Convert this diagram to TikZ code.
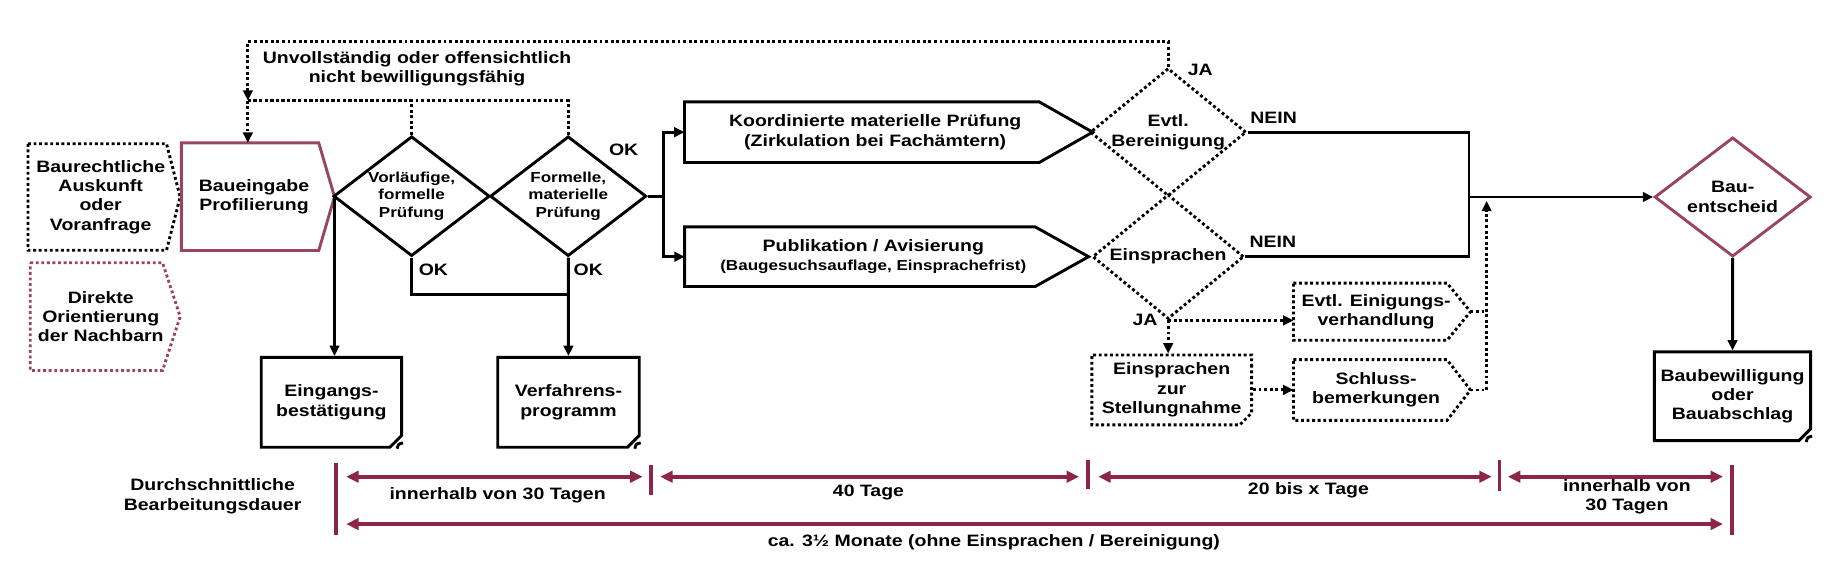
\documentclass[tikz,border=0pt]{standalone}
\usepackage{fontspec}
\setmainfont[FakeStretch=1.18]{Liberation Sans}
\usepackage{tikz}
\usetikzlibrary{shapes.geometric, shapes.misc, arrows.meta, positioning, calc}
\definecolor{baurot}{HTML}{9A4460}
\definecolor{dauerrot}{HTML}{8C2546}

\tikzset{
  txt/.style={font=\fontsize{8}{9.4}\selectfont\bfseries, align=center, inner sep=0pt},
  txtklein/.style={font=\fontsize{7}{8.5}\selectfont\bfseries, align=center, inner sep=0pt},
  linie/.style={line width=1.4pt},
  punkt/.style={line width=1.4pt, dash pattern=on 1.4pt off 1.3pt},
  pfeil/.style={-{Triangle[length=5pt,width=4.6pt]}},
  raute/.style={diamond, draw, line width=1.4pt, inner sep=0pt, aspect=1.3, minimum width=2.66cm, minimum height=2.04cm},
  dok/.style={chamfered rectangle, chamfered rectangle corners=south east, chamfered rectangle xsep=0.1cm, chamfered rectangle ysep=0.1cm, draw, line width=1.4pt},
  dauer/.style={dauerrot, line width=1.8pt},
  dauerpfeil/.style={dauer, {Triangle[length=6pt,width=5.5pt]}-{Triangle[length=6pt,width=5.5pt]}}
}

\begin{document}
\begin{tikzpicture}[x=0.02cm, y=-0.02cm]
  \useasboundingbox (0,0) rectangle (1568,495);

  % Vorabklaerung
  \node[txt, minimum width=2.46cm, minimum height=1.80cm] (auskunft) at (85.7,167.7) {Baurechtliche\\Auskunft\\oder\\Voranfrage};
  \draw[punkt] (auskunft.north west) -- ($(auskunft.north east)+(-5.8,0)$) -- ($(auskunft.east)+(5.8,0)$) -- ($(auskunft.south east)+(-5.8,0)$) -- (auskunft.south west) -- cycle;

  \node[txt, minimum width=2.39cm, minimum height=1.82cm] (nachbarn) at (85.8,269.5) {Direkte\\Orientierung\\der Nachbarn};
  \draw[punkt, baurot] (nachbarn.north west) -- ($(nachbarn.north east)+(-7.5,0)$) -- ($(nachbarn.east)+(7.5,0)$) -- ($(nachbarn.south east)+(-7.5,0)$) -- (nachbarn.south west) -- cycle;

  % Baueingabe und Vorpruefung
  \node[txt, minimum width=2.46cm, minimum height=1.82cm] (eingabe) at (216.2,167.4) {Baueingabe\\Profilierung};
  \draw[linie, baurot] (eingabe.north west) -- ($(eingabe.north east)+(-6.7,0)$) -- ($(eingabe.east)+(6.7,0)$) coordinate (eingabe-spitze) -- ($(eingabe.south east)+(-6.7,0)$) -- (eingabe.south west) -- cycle;

  \node[raute, txtklein] (vorpruef) at (350.4,167) {Vorläufige,\\formelle\\Prüfung};
  \node[raute, txtklein] (matpruef) at (483.7,167) {Formelle,\\materielle\\Prüfung};

  \node[dok, txt, minimum width=2.39cm, minimum height=1.53cm] (eingang) at (282.1,342.5) {Eingangs-\\bestätigung};
  \node[dok, txt, minimum width=2.41cm, minimum height=1.53cm] (verfahren) at (483.9,342.5) {Verfahrens-\\programm};

  % Rueckweisung
  \coordinate (rueck) at (211,35.5);
  \coordinate (sammel) at (211,85.7);
  \node[txt] (unvoll) at (355,58.7) {Unvollständig oder offensichtlich\\nicht bewilligungsfähig};

  % Materielle Pruefung und Publikation
  \node[txt, minimum width=6.48cm, minimum height=1.02cm] (koord) at (745,112.5) {Koordinierte materielle Prüfung\\(Zirkulation bei Fachämtern)};
  \draw[linie] (koord.north west) -- ($(koord.north east)+(-22.75,0)$) -- ($(koord.east)+(22.75,0)$) -- ($(koord.south east)+(-22.75,0)$) -- (koord.south west) -- cycle;

  \node[txt, minimum width=6.41cm, minimum height=1.0cm] (publ) at (743.4,218.5) {Publikation / Avisierung\\{\fontsize{7}{8.5}\selectfont(Baugesuchsauflage, Einsprachefrist)}};
  \draw[linie] (publ.north west) -- ($(publ.north east)+(-22.7,0)$) -- ($(publ.east)+(22.7,0)$) -- ($(publ.south east)+(-22.7,0)$) -- (publ.south west) -- cycle;

  \node[raute, punkt, txt, aspect=1.22, minimum width=2.58cm, minimum height=2.12cm] (bereinig) at (994.4,112.5) {Evtl.\\Bereinigung};
  \node[raute, punkt, txt, aspect=1.22, minimum width=2.58cm, minimum height=2.12cm] (einspr) at (994.4,218.5) {Einsprachen};

  % Einsprachen
  \node[dok, punkt, txt, minimum width=2.72cm, minimum height=1.19cm] (stellung) at (997.4,331.9) {Einsprachen\\zur\\Stellungnahme};

  \node[txt, minimum width=2.8cm, minimum height=0.96cm] (einigung) at (1171.4,265.3) {Evtl. Einigungs-\\verhandlung};
  \draw[punkt] (einigung.north west) -- ($(einigung.north east)+(-9.95,0)$) -- ($(einigung.east)+(9.95,0)$) coordinate (einigung-spitze) -- ($(einigung.south east)+(-9.95,0)$) -- (einigung.south west) -- cycle;

  \node[txt, minimum width=2.8cm, minimum height=1.02cm] (schluss) at (1171.4,332) {Schluss-\\bemerkungen};
  \draw[punkt] (schluss.north west) -- ($(schluss.north east)+(-9.95,0)$) -- ($(schluss.east)+(9.95,0)$) coordinate (schluss-spitze) -- ($(schluss.south east)+(-9.95,0)$) -- (schluss.south west) -- cycle;

  % Bauentscheid
  \node[raute, baurot, txt, text=black, aspect=1.31, minimum width=2.66cm, minimum height=2.03cm] (entscheid) at (1474.9,167.7) {Bau-\\entscheid};
  \node[dok, txt, minimum width=2.66cm, minimum height=1.51cm] (bewilligung) at (1474.8,337.3) {Baubewilligung\\oder\\Bauabschlag};

  % Eckfalten
  \draw[linie] ($(eingang.east |- eingang.south)+(-5,0)$) .. controls ($(eingang.east |- eingang.south)+(-4,-4)$) .. ($(eingang.east |- eingang.south)+(0,-5)$);
  \draw[linie] ($(verfahren.east |- verfahren.south)+(-5,0)$) .. controls ($(verfahren.east |- verfahren.south)+(-4,-4)$) .. ($(verfahren.east |- verfahren.south)+(0,-5)$);
  \draw[linie] ($(bewilligung.east |- bewilligung.south)+(-5,0)$) .. controls ($(bewilligung.east |- bewilligung.south)+(-4,-4)$) .. ($(bewilligung.east |- bewilligung.south)+(0,-5)$);

  % Verbindungen
  \draw[punkt, pfeil] (bereinig.north) |- (rueck) -- (sammel);
  \draw[punkt] (vorpruef.north) |- (sammel);
  \draw[punkt] (matpruef.north) |- (sammel);
  \draw[punkt, pfeil] (sammel) -- (sammel |- eingabe.north);

  \draw[linie, pfeil] (eingabe-spitze) -- (eingabe-spitze |- eingang.north);
  \draw[linie] (vorpruef.south) -- ++(0,31.3) -| (matpruef.south);
  \draw[linie, pfeil] (matpruef.south) -- (verfahren.north);

  \coordinate (verzweig) at (564.6,167);
  \draw[linie] (matpruef.east) -- (verzweig);
  \draw[linie, pfeil] (verzweig) |- (koord.west);
  \draw[linie, pfeil] (verzweig) |- (publ.west);

  \coordinate (zusammen) at (1250.5,167.7);
  \draw[linie] (bereinig.east) -| (zusammen);
  \draw[linie] (einspr.east) -| (zusammen);
  \draw[linie, pfeil] (zusammen) -- (entscheid.west);
  \draw[linie, pfeil] (entscheid.south) -- (bewilligung.north);

  \coordinate (rueckweg) at (1265.5,171);
  \draw[punkt, pfeil] (einspr.south) -- (einspr.south |- stellung.north);
  \draw[punkt, pfeil] (einspr.south) -- (einspr.south -| einigung.west);
  \draw[punkt, pfeil] (stellung.east) -- (stellung.east -| schluss.west);
  \draw[punkt] (einigung-spitze) -- (einigung-spitze -| rueckweg);
  \draw[punkt, pfeil] (schluss-spitze) -| (rueckweg);

  % Beschriftungen
  \node[txt] (ok1) at (368.9,229.3) {OK};
  \node[txt] (ok2) at (500.8,229.3) {OK};
  \node[txt] (ok3) at (530.9,127.7) {OK};
  \node[txt] (ja1) at (1021.7,59.6) {JA};
  \node[txt] (ja2) at (974.7,272.4) {JA};
  \node[txt] (nein1) at (1084.2,99.9) {NEIN};
  \node[txt] (nein2) at (1083.5,205.7) {NEIN};

  % Bearbeitungsdauer
  \draw[dauer] (286.2,394.4) -- (286.2,455.4);
  \draw[dauer] (554.4,395.8) -- (554.4,421.4);
  \draw[dauer] (926.2,391.6) -- (926.2,416.6);
  \draw[dauer] (1276.5,391.6) -- (1276.5,418);
  \draw[dauer] (1474.4,395.8) -- (1474.4,455.4);

  \draw[dauerpfeil] (294.7,405.8) -- (547,405.8);
  \draw[dauerpfeil] (562,405.8) -- (918.5,405.8);
  \draw[dauerpfeil] (934.9,405.8) -- (1269.8,405.8);
  \draw[dauerpfeil] (1283.6,405.8) -- (1466.7,405.8);
  \draw[dauerpfeil] (294.7,446.1) -- (1466.7,446.1);

  \node[txt] (dauer) at (181,422.5) {Durchschnittliche\\Bearbeitungsdauer};
  \node[txt] (dauer1) at (423.6,421.4) {innerhalb von 30 Tagen};
  \node[txt] (dauer2) at (739.3,419.4) {40 Tage};
  \node[txt] (dauer3) at (1113.8,417.1) {20 bis x Tage};
  \node[txt] (dauer4) at (1384.9,422.7) {innerhalb von\\30 Tagen};
  \node[txt] (dauertotal) at (846,462) {ca. 3½ Monate (ohne Einsprachen / Bereinigung)};
\end{tikzpicture}
\end{document}
